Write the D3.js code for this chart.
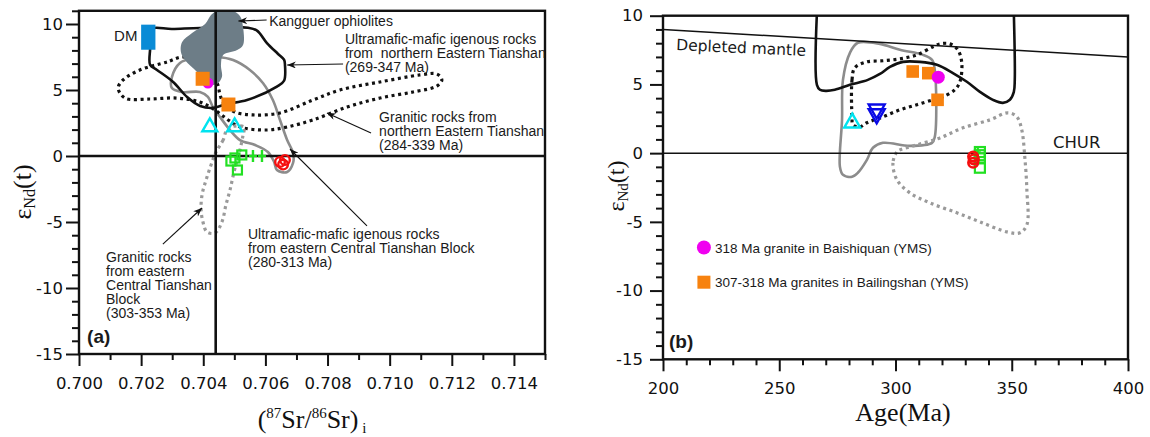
<!DOCTYPE html>
<html><head><meta charset="utf-8">
<script src="https://cdn.jsdelivr.net/npm/d3@7"></script>
<style>body{margin:0;background:#fff}</style>
</head><body>
<svg id="fig" width="1150" height="437"></svg>
<script>
// ---------- Panel (a): eNd(t) vs (87Sr/86Sr)i ----------
const srTicksMajor = [0.700, 0.702, 0.704, 0.706, 0.708, 0.710, 0.712, 0.714];
const epsTicksMajor = [-15, -10, -5, 0, 5, 10];
const bulkEarthSr = 0.7044;

// field outlines [Sr, eNd]
const kangguerField = [[0.70441,10.95],[0.70493,11.0],[0.70518,10.61],[0.70528,9.77],[0.70528,8.41],[0.70509,8.03],[0.70464,7.65],[0.70457,6.89],[0.70460,5.98],[0.70444,5.45],[0.70409,5.45],[0.70380,6.36],[0.70341,7.27],[0.70328,7.88],[0.70332,8.64],[0.70364,9.32],[0.70406,10.0],[0.70425,10.68]];
const maficNorthET_a = [[0.70229,9.60],[0.70300,9.62],[0.70390,9.70],[0.70544,9.72],[0.70573,9.50],[0.70605,8.56],[0.70640,7.75],[0.70660,7.30],[0.70663,6.90],[0.70660,5.70],[0.70637,5.25],[0.70541,4.24],[0.70476,3.94],[0.70431,3.64],[0.70390,3.79],[0.70348,4.47],[0.70303,5.61],[0.70251,6.52],[0.70229,6.90],[0.70229,8.18]];
const graniteNorthET_a = [[0.70332,7.50],[0.70283,7.12],[0.70196,6.52],[0.70142,5.76],[0.70126,5.15],[0.70148,4.39],[0.70229,4.32],[0.70315,4.39],[0.70389,4.09],[0.70438,3.48],[0.70480,2.73],[0.70518,2.20],[0.70605,1.97],[0.70670,2.20],[0.70753,2.73],[0.70863,3.71],[0.70969,4.39],[0.71075,4.85],[0.71152,5.30],[0.71168,5.76],[0.71152,6.21],[0.71098,6.14],[0.70969,5.61],[0.70840,5.00],[0.70753,4.24],[0.70647,3.26],[0.70560,3.11],[0.70502,3.33],[0.70467,3.94],[0.70454,4.62],[0.70447,5.38],[0.70422,6.52],[0.70373,7.27]];
const maficCentralTS_a = [[0.70447,7.50],[0.70496,7.27],[0.70550,6.52],[0.70592,5.53],[0.70624,4.24],[0.70647,2.73],[0.70670,1.21],[0.70689,0.23],[0.70689,-0.53],[0.70670,-1.21],[0.70637,-1.06],[0.70628,-0.45],[0.70608,0.30],[0.70567,0.83],[0.70518,1.21],[0.70486,1.97],[0.70454,2.95],[0.70431,3.71],[0.70415,4.47],[0.70389,4.85],[0.70332,4.85],[0.70299,5.15],[0.70299,5.98],[0.70325,7.05],[0.70373,7.42]];
const graniteCentralTS_a = [[0.70480,2.12],[0.70464,1.21],[0.70441,0.30],[0.70425,-0.68],[0.70409,-1.82],[0.70396,-2.95],[0.70393,-4.09],[0.70399,-5.00],[0.70412,-5.76],[0.70438,-5.83],[0.70460,-5.00],[0.70473,-3.71],[0.70486,-2.58],[0.70499,-1.21],[0.70518,0.45],[0.70528,1.59],[0.70531,2.20]];

// DM box: Sr range and eNd range
const dmSr = [0.70200, 0.70246];
const dmEps = [8.05, 9.95];

// samples [Sr, eNd]
const pinkA = [[0.70415, 5.53]];
const orangeA = [[0.70398, 5.85], [0.70481, 3.90]];
const cyanA = [[0.70421, 2.2], [0.70501, 2.2]];
const greenSqA = [[0.70502, -0.15], [0.70524, 0.08], [0.70510, -1.06], [0.70489, -0.38]];
const greenPlusA = [[0.70560, 0.0], [0.70589, 0.0]];
const redA = [[0.70647, -0.45], [0.70663, -0.30], [0.70657, -0.65]];

// ---------- Panel (b): eNd(t) vs Age ----------
const ageTicksMajor = [200, 250, 300, 350, 400];
const depletedMantle = [[200, 9.0], [400, 7.0]];
const maficNorthET_b = [[266.2,10.2],[266.2,4.97],[267.5,4.61],[270.1,4.53],[273.9,4.61],[280.4,4.97],[288.1,5.33],[293.3,5.76],[297.6,6.27],[303.2,6.64],[310.5,6.64],[317.8,6.43],[324.7,5.83],[330.7,5.19],[336.3,4.46],[341.9,3.88],[346.2,3.66],[349.2,3.88],[350.9,4.46],[351.3,5.33],[350.9,10.2]];
const maficCentralTS_b = [[283.8,8.03],[293.3,7.95],[301.9,7.52],[311.8,7.15],[315.7,6.79],[316.9,6.06],[316.9,1.19],[315.7,0.75],[306.2,0.53],[294.6,0.75],[290.3,0.39],[287.7,-0.49],[283.8,-1.43],[281.3,-1.72],[277.4,-1.58],[276.1,-1.00],[277.0,2.42],[277.4,5.33],[280.4,7.30]];
const graniteNorthET_b = [[281.3,2.64],[281.3,5.33],[282.5,6.21],[287.7,6.64],[294.6,6.72],[301.9,6.86],[309.2,7.15],[316.1,7.74],[319.1,7.95],[323.4,7.95],[326.8,7.52],[328.5,6.57],[327.7,5.19],[325.5,4.61],[320.4,4.10],[316.1,3.88],[309.2,3.52],[301.9,3.15],[294.6,2.64],[287.7,2.21],[284.7,1.91],[281.7,2.06]];
const graniteCentralTS_b = [[300.6,0.09],[298.9,-0.71],[300.6,-1.94],[306.2,-2.89],[314.8,-3.62],[326.4,-4.34],[336.3,-5.00],[347.9,-5.73],[353.5,-5.80],[356.5,-5.22],[356.5,-2.67],[355.6,-0.27],[354.3,1.70],[352.2,2.64],[348.3,2.93],[340.6,2.42],[329.0,1.84],[319.1,1.11],[309.2,0.60],[301.9,0.24]];

// samples [age, eNd]
const pinkB = [[318.4, 5.53]];
const orangeB = [[307.4, 5.94], [314.1, 5.82], [318.1, 3.88]];
const cyanB = [[281.4, 2.2]];
const blueB = [[291.9, 3.2], [291.9, 2.85]];
const greenSqB = [[336.3, 0.08], [336.3, -0.15], [336.3, -0.38], [336.3, -1.06]];
const greenPlusB = [[335.4, 0.05]];
const redB = [[333.4, -0.25], [333.4, -0.70], [333.7, -0.45]];

const legendB = [
  {label: "318 Ma granite in Baishiquan (YMS)", kind: "pink", at: [217.6, -6.87]},
  {label: "307-318 Ma granites in Bailingshan (YMS)", kind: "orange", at: [217.6, -9.39]}
];

// ---------- colours ----------
const C = {
  kangguer: "#6d7d87", dm: "#0a8bd6", orange: "#f7820f", pink: "#f000f0",
  cyan: "#00e3ef", green: "#22e022", red: "#f50f0f", blue: "#0a0ae6",
  grey: "#8c8c8c", greyDot: "#9a9a9a"
};

const hyphen = f => d => f(d).replace("\u2212", "-");

const svg = d3.select("#fig");
svg.append("rect").attr("width", 1150).attr("height", 437).attr("fill", "#fff");
const defs = svg.append("defs");

const xA = d3.scaleLinear().domain([0.700, 0.715]).range([79, 545]);
const yA = d3.scaleLinear().domain([-15, 11]).range([354, 10.8]);
const xB = d3.scaleLinear().domain([200, 400]).range([663, 1128]);
const yB = d3.scaleLinear().domain([-15, 10]).range([359.3, 15.7]);

function addClip(id, x, y) {
  defs.append("clipPath").attr("id", id).append("rect")
    .attr("x", x.range()[0]).attr("y", y.range()[1])
    .attr("width", x.range()[1] - x.range()[0]).attr("height", y.range()[0] - y.range()[1]);
}
addClip("clipA", xA, yA);
addClip("clipB", xB, yB);

defs.append("marker").attr("id", "arrow").attr("viewBox", "0 0 10 8")
  .attr("refX", 10).attr("refY", 4).attr("markerWidth", 10).attr("markerHeight", 7)
  .attr("markerUnits", "userSpaceOnUse").attr("orient", "auto")
  .append("path").attr("d", "M0,0 L10,4 L0,8 L3,4 Z").attr("fill", "#111");

function fieldPath(g, data, x, y, style, closed = true) {
  const line = d3.line().x(d => x(d[0])).y(d => y(d[1]))
    .curve(closed ? d3.curveCatmullRomClosed.alpha(0.5) : d3.curveCatmullRom.alpha(0.5));
  const p = g.append("path").attr("d", line(data)).attr("fill", style.fill || "none");
  if (style.stroke) p.attr("stroke", style.stroke).attr("stroke-width", style.width || 2.5);
  if (style.dash) p.attr("stroke-dasharray", style.dash);
  p.attr("stroke-linejoin", "round");
  return p;
}

function triPath(w, h, down) {
  // centroid-centred triangle
  const s = down ? -1 : 1;
  return `M0,${-s * 2 * h / 3} L${w / 2},${s * h / 3} L${-w / 2},${s * h / 3} Z`;
}

function drawAxes(g, x, y, xMajor, xStep, yStep, fmt, opts) {
  const font = {family: "DejaVu Sans", size: 16.5};
  const [x0, x1] = x.domain(), [y0, y1] = y.domain();
  const xMinor = d3.range(x0, x1 + xStep / 2, xStep).filter(v => !xMajor.some(m => Math.abs(m - v) < xStep / 10));
  const yMinor = d3.range(Math.ceil(y0), Math.floor(y1) + 0.01, yStep).filter(v => v % 5 !== 0);

  const gxMin = g.append("g").attr("transform", `translate(0,${y.range()[0]})`)
    .call(d3.axisBottom(x).tickValues(xMinor).tickSize(6).tickFormat(""));
  const gx = g.append("g").attr("transform", `translate(0,${y.range()[0]})`)
    .call(d3.axisBottom(x).tickValues(xMajor).tickSize(12).tickPadding(opts.xPad).tickFormat(hyphen(fmt)));
  const gyMin = g.append("g").attr("transform", `translate(${x.range()[0]},0)`)
    .call(d3.axisLeft(y).tickValues(yMinor).tickSize(7).tickFormat(""));
  const gy = g.append("g").attr("transform", `translate(${x.range()[0]},0)`)
    .call(d3.axisLeft(y).tickValues(epsTicksMajor).tickSize(13).tickPadding(opts.yPad).tickFormat(hyphen(d3.format("d"))));
  [gxMin, gx, gyMin, gy].forEach(a => {
    a.select(".domain").remove();
    a.selectAll(".tick line").attr("stroke", "#111").attr("stroke-width", 2);
    a.selectAll("text").attr("font-family", font.family).attr("font-size", font.size).attr("fill", "#111");
  });
  // frame
  g.append("rect").attr("x", x.range()[0]).attr("y", y.range()[1])
    .attr("width", x.range()[1] - x.range()[0]).attr("height", y.range()[0] - y.range()[1])
    .attr("fill", "none").attr("stroke", "#111").attr("stroke-width", 2.4);
}

function multiline(g, x, y, lines, at, opts = {}) {
  const t = g.append("text").attr("x", x(at[0])).attr("y", y(at[1]))
    .attr("font-family", opts.family || "Liberation Sans, Arial, sans-serif")
    .attr("font-size", opts.size || 14).attr("fill", "#1a1a1a")
    .attr("text-anchor", opts.anchor || "start")
    .style("white-space", "pre");
  if (opts.weight) t.attr("font-weight", opts.weight);
  lines.forEach((s, i) => t.append("tspan").attr("x", x(at[0])).attr("dy", i === 0 ? 0 : (opts.lh || 14)).text(s));
  return t;
}

function arrow(g, x, y, a) {
  g.append("line").attr("x1", x(a.from[0])).attr("y1", y(a.from[1]))
    .attr("x2", x(a.to[0])).attr("y2", y(a.to[1]))
    .attr("stroke", "#111").attr("stroke-width", 1.1).attr("marker-end", "url(#arrow)");
}

function epsLabel(g, cx, cy, size) {
  const t = g.append("text").attr("transform", `translate(${cx},${cy}) rotate(-90)`)
    .attr("text-anchor", "middle").attr("font-family", "Liberation Serif, Times New Roman, serif")
    .attr("font-size", size).attr("fill", "#111");
  t.append("tspan").text("ε");
  t.append("tspan").attr("font-size", size * 0.62).attr("dy", 4).text("Nd");
  t.append("tspan").attr("dy", -4).text("(t)");
}

// ============ Panel (a) ============
const gA = svg.append("g");
const fA = gA.append("g").attr("clip-path", "url(#clipA)");

fieldPath(fA, maficCentralTS_a, xA, yA, {stroke: C.grey, width: 2.6});
fieldPath(fA, graniteNorthET_a, xA, yA, {stroke: "#111", width: 3.2, dash: "3 3.6"});
fieldPath(fA, maficNorthET_a, xA, yA, {stroke: "#111", width: 2.6});
fieldPath(fA, graniteCentralTS_a, xA, yA, {stroke: C.greyDot, width: 3.2, dash: "3 3.6"});
fieldPath(fA, kangguerField, xA, yA, {fill: C.kangguer});

// reference lines
gA.append("line").attr("x1", xA(0.700)).attr("x2", xA(0.715)).attr("y1", yA(0)).attr("y2", yA(0))
  .attr("stroke", "#111").attr("stroke-width", 2.6);
gA.append("line").attr("x1", xA(bulkEarthSr)).attr("x2", xA(bulkEarthSr)).attr("y1", yA(-15)).attr("y2", yA(11))
  .attr("stroke", "#111").attr("stroke-width", 2.6);

// DM box
gA.append("rect").attr("x", xA(dmSr[0])).attr("width", xA(dmSr[1]) - xA(dmSr[0]))
  .attr("y", yA(dmEps[1])).attr("height", yA(dmEps[0]) - yA(dmEps[1])).attr("fill", C.dm);
gA.append("text").attr("x", xA(0.70188)).attr("y", yA(8.75)).attr("text-anchor", "end")
  .attr("font-family", "Liberation Sans, Arial, sans-serif").attr("font-size", 15).attr("fill", "#1a1a1a").text("DM");

// samples (a)
gA.selectAll(".pA").data(pinkA).join("circle").attr("cx", d => xA(d[0])).attr("cy", d => yA(d[1])).attr("r", 5.5).attr("fill", C.pink);
gA.selectAll(".oA").data(orangeA).join("rect").attr("x", d => xA(d[0]) - 7).attr("y", d => yA(d[1]) - 7)
  .attr("width", 14).attr("height", 14).attr("fill", C.orange);
gA.selectAll(".cA").data(cyanA).join("path").attr("transform", d => `translate(${xA(d[0])},${yA(d[1])})`)
  .attr("d", triPath(15, 13, false)).attr("fill", "none").attr("stroke", C.cyan).attr("stroke-width", 2.4);
gA.selectAll(".gA").data(greenSqA).join("rect").attr("x", d => xA(d[0]) - 4.5).attr("y", d => yA(d[1]) - 4.5)
  .attr("width", 9).attr("height", 9).attr("fill", "none").attr("stroke", C.green).attr("stroke-width", 2.2);
gA.selectAll(".gpA").data(greenPlusA).join("path").attr("transform", d => `translate(${xA(d[0])},${yA(d[1])})`)
  .attr("d", "M0,-6 V6 M-4,0 H4").attr("stroke", C.green).attr("stroke-width", 2.4).attr("fill", "none");
gA.selectAll(".rA").data(redA).join("circle").attr("cx", d => xA(d[0])).attr("cy", d => yA(d[1])).attr("r", 4.8)
  .attr("fill", "none").attr("stroke", C.red).attr("stroke-width", 2.4);

drawAxes(gA, xA, yA, srTicksMajor, 0.001, 1, d3.format(".3f"), {xPad: 11, yPad: 3});

// annotations (a)
const notesA = [
  {lines: ["Kangguer ophiolites"], at: [0.70612, 9.85]},
  {lines: ["Ultramafic-mafic igenous rocks", "from  northern Eastern Tianshan", "(269-347 Ma)"], at: [0.70856, 8.45]},
  {lines: ["Granitic rocks from", "northern Eastern Tianshan", "(284-339 Ma)"], at: [0.70966, 2.55]},
  {lines: ["Ultramafic-mafic igenous rocks", "from eastern Central Tianshan Block", "(280-313 Ma)"], at: [0.70544, -6.25]},
  {lines: ["Granitic rocks", "from eastern", "Central Tianshan", "Block", "(303-353 Ma)"], at: [0.70087, -8.05]}
];
const arrowsA = [
  {from: [0.70604, 10.30], to: [0.70513, 10.23]},
  {from: [0.70850, 6.97], to: [0.70670, 6.89]},
  {from: [0.70940, 1.74], to: [0.70798, 3.26]},
  {from: [0.70927, -5.30], to: [0.70679, 0.53]},
  {from: [0.70270, -6.67], to: [0.70396, -3.94]}
];
notesA.forEach(n => multiline(gA, xA, yA, n.lines, n.at));
arrowsA.forEach(a => arrow(gA, xA, yA, a));
multiline(gA, xA, yA, ["(a)"], [0.70026, -14.2], {size: 19, weight: "bold"});

epsLabel(gA, 31, 192, 26);
const xl = gA.append("text").attr("x", 312).attr("y", 428).attr("text-anchor", "middle")
  .attr("font-family", "Liberation Serif, Times New Roman, serif").attr("font-size", 26).attr("fill", "#111");
xl.append("tspan").text("(");
xl.append("tspan").attr("font-size", 15).attr("dy", -10).text("87");
xl.append("tspan").attr("dy", 10).text("Sr/");
xl.append("tspan").attr("font-size", 15).attr("dy", -10).text("86");
xl.append("tspan").attr("dy", 10).text("Sr)");
xl.append("tspan").attr("font-size", 15).attr("dy", 5).text(" i");

// ============ Panel (b) ============
const gB = svg.append("g");
const fB = gB.append("g").attr("clip-path", "url(#clipB)");

fieldPath(fB, maficCentralTS_b, xB, yB, {stroke: C.grey, width: 2.6});
fieldPath(fB, graniteCentralTS_b, xB, yB, {stroke: C.greyDot, width: 3.2, dash: "3 3.6"});
fieldPath(fB, graniteNorthET_b, xB, yB, {stroke: "#111", width: 3.2, dash: "3 3.6"});
fieldPath(fB, maficNorthET_b, xB, yB, {stroke: "#111", width: 2.6}, false);

// depleted mantle and CHUR
fB.append("line").attr("x1", xB(depletedMantle[0][0])).attr("y1", yB(depletedMantle[0][1]))
  .attr("x2", xB(depletedMantle[1][0])).attr("y2", yB(depletedMantle[1][1]))
  .attr("stroke", "#111").attr("stroke-width", 1.5);
fB.append("line").attr("x1", xB(200)).attr("x2", xB(400)).attr("y1", yB(0)).attr("y2", yB(0))
  .attr("stroke", "#111").attr("stroke-width", 1.5);

// samples (b)
gB.selectAll(".cB").data(cyanB).join("path").attr("transform", d => `translate(${xB(d[0])},${yB(d[1])})`)
  .attr("d", triPath(16, 14, false)).attr("fill", "none").attr("stroke", C.cyan).attr("stroke-width", 2.4);
gB.selectAll(".bB").data(blueB).join("path").attr("transform", d => `translate(${xB(d[0])},${yB(d[1])})`)
  .attr("d", triPath(16, 14, true)).attr("fill", "none").attr("stroke", C.blue).attr("stroke-width", 2.4);
gB.selectAll(".oB").data(orangeB).join("rect").attr("x", d => xB(d[0]) - 6.3).attr("y", d => yB(d[1]) - 6.3)
  .attr("width", 12.6).attr("height", 12.6).attr("fill", C.orange);
gB.selectAll(".pB").data(pinkB).join("circle").attr("cx", d => xB(d[0])).attr("cy", d => yB(d[1])).attr("r", 6.5).attr("fill", C.pink);
gB.selectAll(".gB").data(greenSqB).join("rect").attr("x", d => xB(d[0]) - 5).attr("y", d => yB(d[1]) - 5)
  .attr("width", 10).attr("height", 10).attr("fill", "none").attr("stroke", C.green).attr("stroke-width", 2.2);
gB.selectAll(".gpB").data(greenPlusB).join("path").attr("transform", d => `translate(${xB(d[0])},${yB(d[1])})`)
  .attr("d", "M0,-5 V5 M-3,0 H3").attr("stroke", C.green).attr("stroke-width", 2.2).attr("fill", "none");
gB.selectAll(".rB").data(redB).join("circle").attr("cx", d => xB(d[0])).attr("cy", d => yB(d[1])).attr("r", 4.8)
  .attr("fill", "none").attr("stroke", C.red).attr("stroke-width", 2.6);

drawAxes(gB, xB, yB, ageTicksMajor, 10, 1, d3.format("d"), {xPad: 11, yPad: 7});

// labels (b)
gB.append("text").attr("transform", `translate(${xB(205.6)},${yB(7.5)}) rotate(2.6)`)
  .attr("font-family", "DejaVu Sans, sans-serif").attr("font-size", 15.5).attr("fill", "#1a1a1a").text("Depleted mantle");
multiline(gB, xB, yB, ["CHUR"], [367.7, 0.4], {family: "DejaVu Sans, sans-serif", size: 16.5});
multiline(gB, xB, yB, ["(b)"], [202.6, -14.2], {size: 19, weight: "bold"});

legendB.forEach(l => {
  const cx = xB(l.at[0]), cy = yB(l.at[1]);
  if (l.kind === "pink") gB.append("circle").attr("cx", cx).attr("cy", cy).attr("r", 7).attr("fill", C.pink);
  else gB.append("rect").attr("x", cx - 6.5).attr("y", cy - 6.5).attr("width", 13).attr("height", 13).attr("fill", C.orange);
  gB.append("text").attr("x", cx + 11).attr("y", cy + 5).attr("font-family", "Liberation Sans, Arial, sans-serif")
    .attr("font-size", 13.5).attr("fill", "#1a1a1a").text(l.label);
});

epsLabel(gB, 624, 186, 24);
gB.append("text").attr("x", 903).attr("y", 421).attr("text-anchor", "middle")
  .attr("font-family", "Liberation Serif, Times New Roman, serif").attr("font-size", 26).attr("fill", "#111").text("Age(Ma)");
</script>
</body></html>
